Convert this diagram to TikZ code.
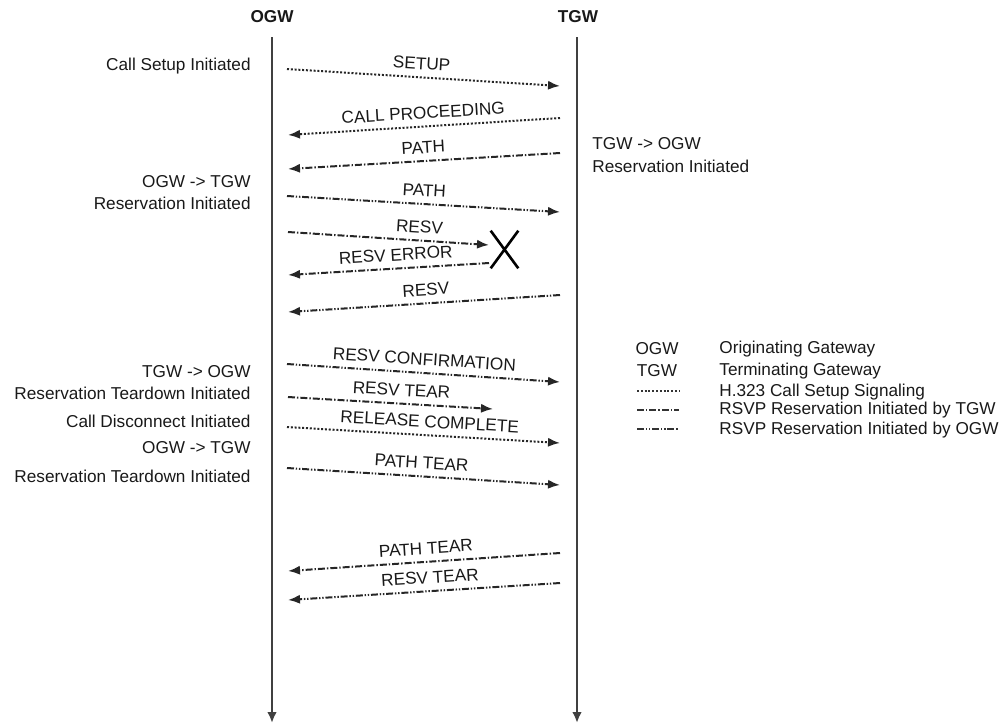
\documentclass[tikz,border=0pt]{standalone}
\usepackage{fontspec}
\setmainfont{Liberation Sans}
\usetikzlibrary{arrows.meta,shapes.misc}
\begin{document}
\begin{tikzpicture}[x=0.5pt,y=-0.5pt,
  font=\fontsize{8.6}{10}\selectfont,
  every node/.style={text=black!90},
  lifeline/.style={line width=1.1pt, draw=black!75, -{Latex[length=5.5pt,width=4.8pt]}},
  msg/.style={line width=1pt, draw=black!85, -{Latex[length=6pt,width=4.6pt]}},
  h323/.style={msg, dash pattern=on 1pt off 0.9pt},
  bytgw/.style={msg, dash pattern=on 3.5pt off 1pt on 0.7pt off 1pt},
  byogw/.style={msg, dash pattern=on 3.5pt off 0.9pt on 0.7pt off 0.9pt on 0.7pt off 0.9pt},
  lbl/.style={sloped, inner sep=0pt, above=3.3pt},
  leftnote/.style={anchor=east, inner sep=0pt},
  rightnote/.style={anchor=west, inner sep=0pt},
  legline/.style={line width=0.8pt, draw=black!80},
]
\useasboundingbox (0,0) rectangle (1005,725);

% headers and lifelines
\node[font=\fontsize{8.6}{10}\selectfont\bfseries] (ogwh) at (272,17) {OGW};
\node[font=\fontsize{8.6}{10}\selectfont\bfseries] (tgwh) at (578,17) {TGW};
\coordinate (ogwtop) at (272,37);
\coordinate (ogwbot) at (272,723);
\coordinate (tgwtop) at (577,37);
\coordinate (tgwbot) at (577,723);
\draw[lifeline] (ogwtop) -- (ogwbot);
\draw[lifeline] (tgwtop) -- (tgwbot);

% message end points
\coordinate (m1a) at (287,69);  \coordinate (m1b) at (560,86);
\coordinate (m2a) at (560,118); \coordinate (m2b) at (288,135);
\coordinate (m3a) at (560,153); \coordinate (m3b) at (288,169);
\coordinate (m4a) at (287,196); \coordinate (m4b) at (560,212);
\coordinate (m5a) at (288,232); \coordinate (m5b) at (489,245);
\coordinate (m6a) at (489,263); \coordinate (m6b) at (288,275);
\coordinate (m7a) at (560,295); \coordinate (m7b) at (288,312);
\coordinate (m8a) at (287,364); \coordinate (m8b) at (560,382);
\coordinate (m9a) at (288,397); \coordinate (m9b) at (493,409);
\coordinate (m10a) at (287,427); \coordinate (m10b) at (560,443);
\coordinate (m11a) at (287,468); \coordinate (m11b) at (560,485);
\coordinate (m12a) at (560,553); \coordinate (m12b) at (288,571);
\coordinate (m13a) at (560,583); \coordinate (m13b) at (288,600);

% messages
\draw[h323]  (m1a) -- node[lbl, pos=0.49] (l1) {SETUP} (m1b);
\draw[h323]  (m2a) -- node[lbl, pos=0.5] (l2) {CALL PROCEEDING} (m2b);
\draw[bytgw] (m3a) -- node[lbl, pos=0.5] (l3) {PATH} (m3b);
\draw[byogw] (m4a) -- node[lbl, pos=0.5] (l4) {PATH} (m4b);
\draw[bytgw] (m5a) -- node[lbl, pos=0.65] (l5) {RESV} (m5b);
\draw[bytgw] (m6a) -- node[lbl, pos=0.46] (l6) {RESV ERROR} (m6b);
\draw[byogw] (m7a) -- node[lbl, pos=0.49] (l7) {RESV} (m7b);
\draw[byogw] (m8a) -- node[lbl, pos=0.5] (l8) {RESV CONFIRMATION} (m8b);
\draw[bytgw] (m9a) -- node[lbl, pos=0.55] (l9) {RESV TEAR} (m9b);
\draw[h323]  (m10a) -- node[lbl, pos=0.52] (l10) {RELEASE COMPLETE} (m10b);
\draw[byogw] (m11a) -- node[lbl, pos=0.49] (l11) {PATH TEAR} (m11b);
\draw[bytgw] (m12a) -- node[lbl, pos=0.49] (l12) {PATH TEAR} (m12b);
\draw[byogw] (m13a) -- node[lbl, pos=0.475] (l13) {RESV TEAR} (m13b);

% failure cross
\node[cross out, draw=black, line width=1.3pt, inner sep=0pt,
      minimum width=12.5pt, minimum height=17.5pt] (fail) at (504.5,249.5) {};

% left notes
\node[leftnote] (n1) at (251,66) {Call Setup Initiated};
\node[leftnote] (n2) at (251,182) {OGW -> TGW};
\node[leftnote] (n3) at (251,203) {Reservation Initiated};
\node[leftnote] (n4) at (251,372) {TGW -> OGW};
\node[leftnote] (n5) at (251,393) {Reservation Teardown Initiated};
\node[leftnote] (n6) at (251,421) {Call Disconnect Initiated};
\node[leftnote] (n7) at (251,448) {OGW -> TGW};
\node[leftnote] (n8) at (251,476) {Reservation Teardown Initiated};

% right notes
\node[rightnote] (r1) at (592,144) {TGW -> OGW};
\node[rightnote] (r2) at (592,166) {Reservation Initiated};

% legend
\node (k1) at (657,349) {OGW};
\node (k2) at (657,371) {TGW};
\coordinate (k3a) at (637,391); \coordinate (k3b) at (679,391);
\coordinate (k4a) at (637,410); \coordinate (k4b) at (679,410);
\coordinate (k5a) at (637,429); \coordinate (k5b) at (679,429);
\draw[legline, dash pattern=on 1pt off 0.9pt] (k3a) -- (k3b);
\draw[legline, dash pattern=on 3.5pt off 1pt on 0.7pt off 1pt] (k4a) -- (k4b);
\draw[legline, dash pattern=on 3.5pt off 0.9pt on 0.7pt off 0.9pt on 0.7pt off 0.9pt] (k5a) -- (k5b);
\node[rightnote] (t1) at (719,349) {Originating Gateway};
\node[rightnote] (t2) at (719,371) {Terminating Gateway};
\node[rightnote] (t3) at (719,392) {H.323 Call Setup Signaling};
\node[rightnote] (t4) at (719,410) {RSVP Reservation Initiated by TGW};
\node[rightnote] (t5) at (719,430) {RSVP Reservation Initiated by OGW};
\end{tikzpicture}
\end{document}
